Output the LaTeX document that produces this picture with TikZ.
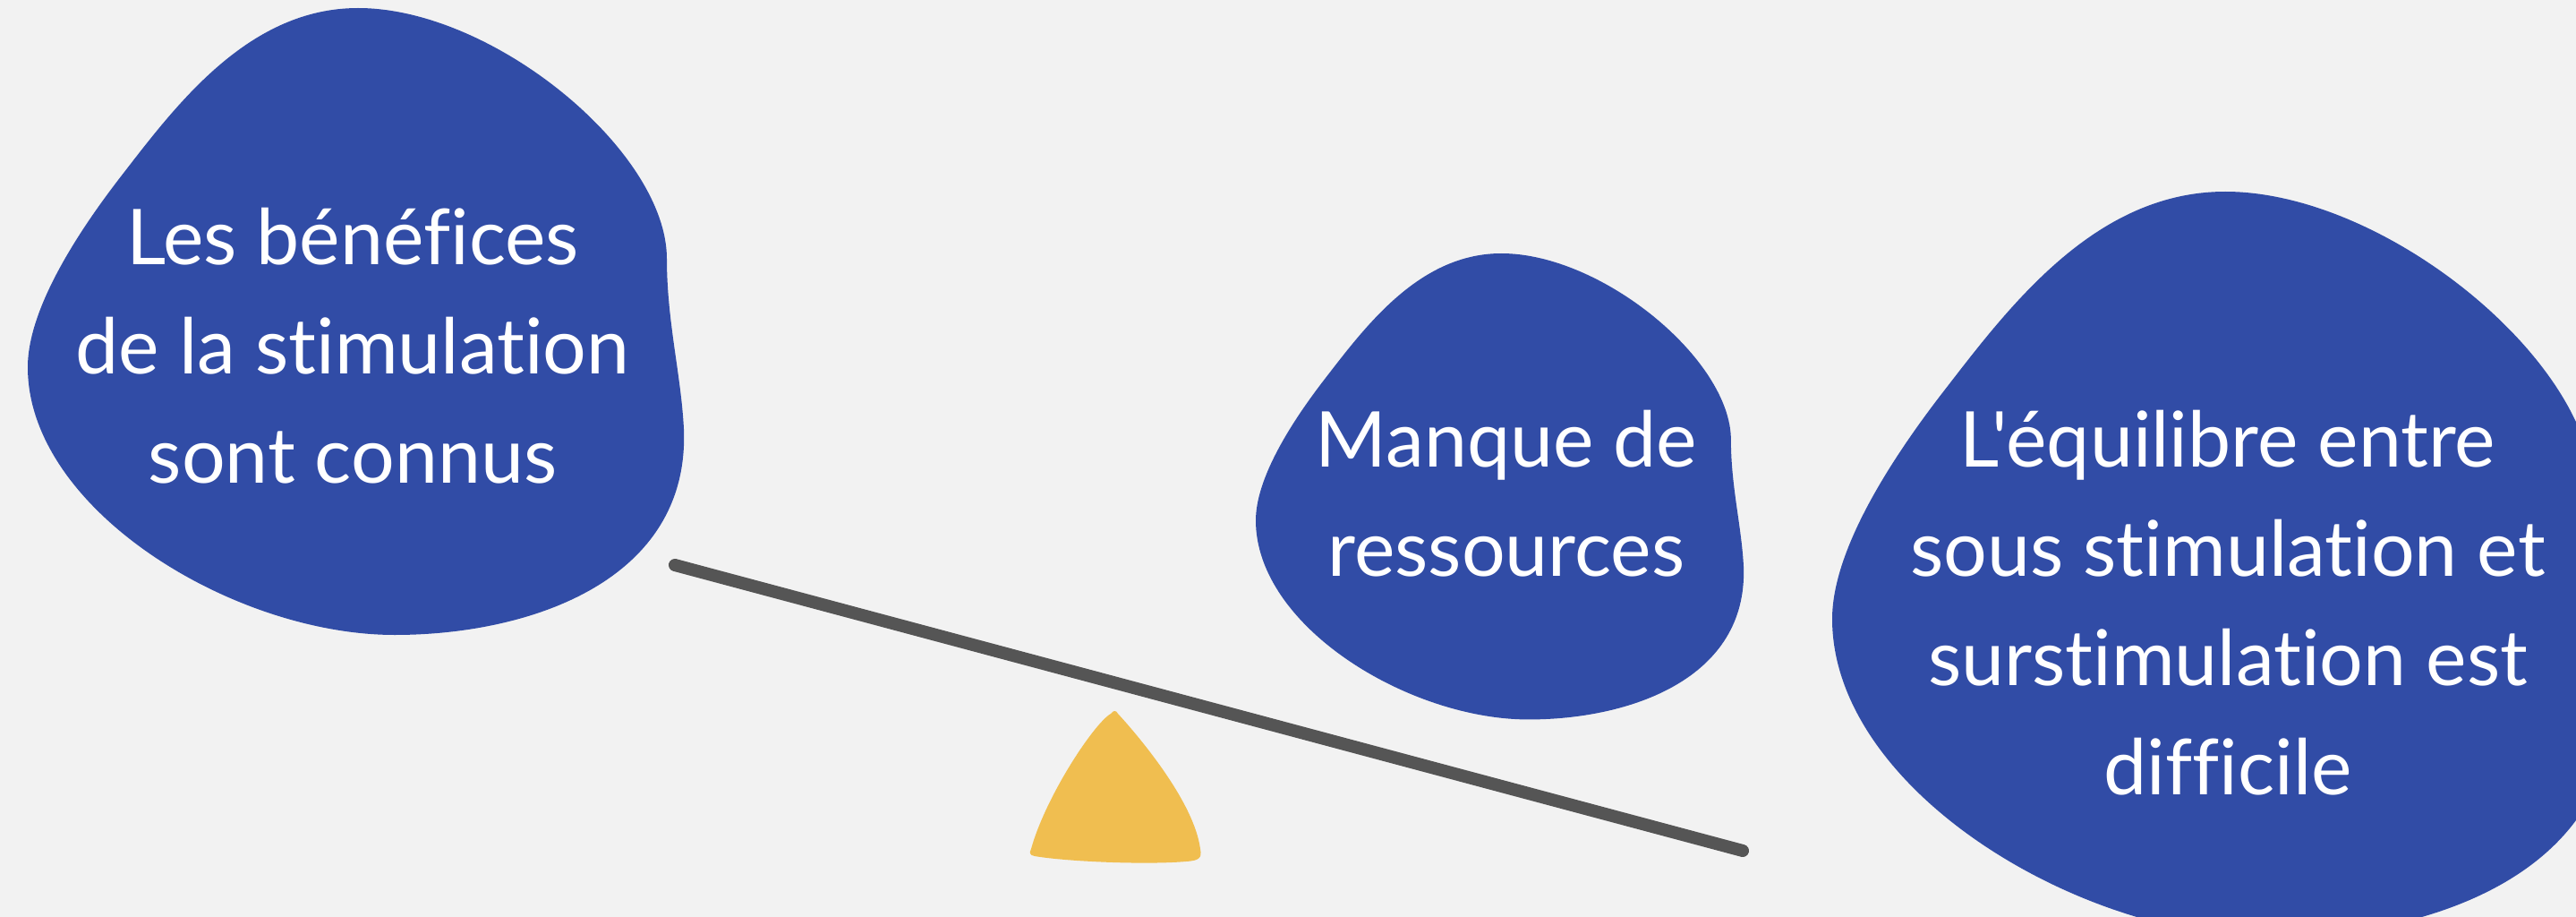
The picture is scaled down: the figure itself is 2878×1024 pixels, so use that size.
\documentclass[tikz,border=0pt]{standalone}
\usepackage{fontspec}
\newfontfamily\lato{Lato}[Ligatures=NoCommon]
\definecolor{bgc}{HTML}{F2F2F2}
\definecolor{blobblue}{HTML}{314CA6}
\definecolor{leverc}{HTML}{555555}
\definecolor{fulc}{HTML}{F0BE50}
\begin{document}
\begin{tikzpicture}[x=1pt,y=-1pt,
  blobfill/.style={fill=blobblue},
  lbl/.style={text=white, inner sep=0pt, anchor=base, font=\lato\fontsize{86}{122}\selectfont},
  lever/.style={draw=leverc, line width=14pt, line cap=round},
  fulcrumfill/.style={fill=fulc}]
\useasboundingbox (0,0) rectangle (2878,1024);
\fill[bgc] (0,0) rectangle (2878,1024);
\begin{scope}
\clip (0,0) rectangle (2878,1024);
\foreach \sx/\sy/\sc in {31/9/1, 1403/283/0.7435, 2047/214/1.19}{
  \begin{scope}[shift={(\sx,\sy)}, scale=\sc]
    \fill[blobfill] (369,0)
      .. controls (520,0) and (714,160) .. (714,280)
      .. controls (714,350) and (730,410) .. (733,470)
      .. controls (740,640) and (560,700) .. (410,700)
      .. controls (230,700) and (0,560) .. (0,401)
      .. controls (0,331) and (65,238) .. (108,183)
      .. controls (169,104) and (249,0) .. (369,0) -- cycle;
  \end{scope}
}
\end{scope}
% fulcrum
\fill[fulcrumfill] (1249,797)
  .. controls (1272,822) and (1334,895) .. (1341,948)
  .. controls (1343,958) and (1340,961) .. (1325,962)
  .. controls (1280,966) and (1190,962) .. (1156,956)
  .. controls (1150,955) and (1150,952) .. (1152,948)
  .. controls (1168,890) and (1222,808) .. (1241,797)
  .. controls (1244,793) and (1247,793) .. (1249,797) -- cycle;
% lever
\coordinate (leverL) at (754,631);
\coordinate (leverR) at (1947,950);
\draw[lever] (leverL) -- (leverR);
% labels
\node[lbl] (t1) at (394,296) {\begin{tabular}[t]{@{}c@{}}Les bénéfices\\de la stimulation\\sont connus\end{tabular}};
\node[lbl] (t2) at (1683,521) {\begin{tabular}[t]{@{}c@{}}Manque de\\ressources\end{tabular}};
\node[lbl] (t3) at (2489,521) {\begin{tabular}[t]{@{}c@{}}L'équilibre entre\\sous stimulation et\\surstimulation est\\difficile\end{tabular}};
\end{tikzpicture}
\end{document}
